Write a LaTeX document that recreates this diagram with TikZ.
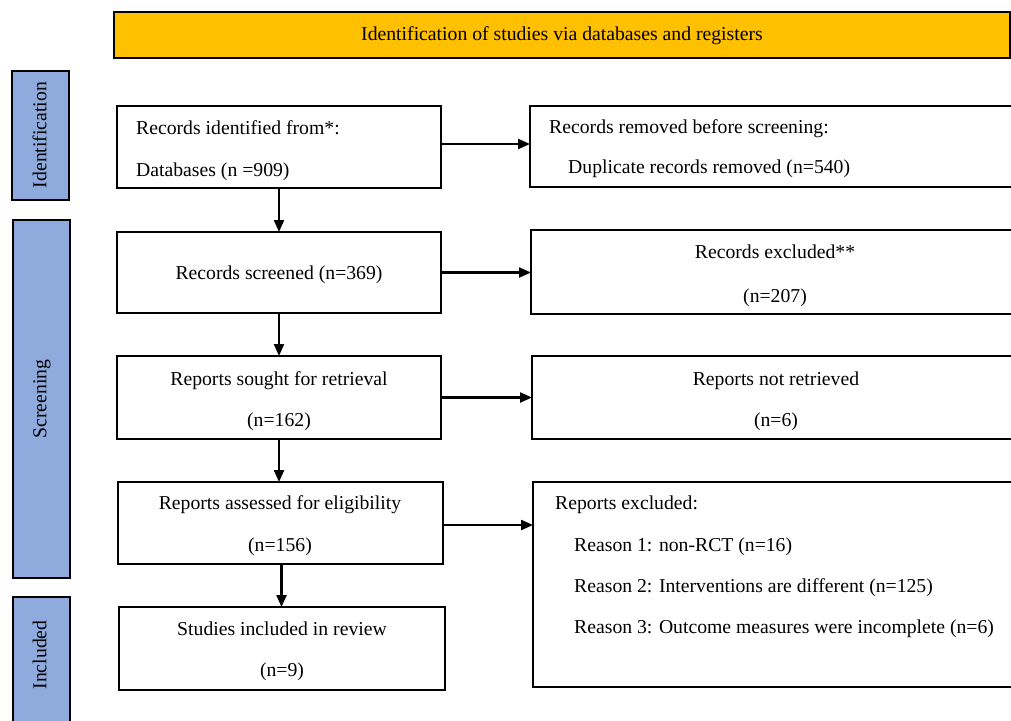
\documentclass[tikz,border=0pt]{standalone}
\usepackage{fontspec}
\setmainfont{Liberation Serif}
\usetikzlibrary{arrows.meta}
\definecolor{bannerY}{HTML}{FFC000}
\definecolor{barB}{HTML}{8FAADC}
\begin{document}
\begin{tikzpicture}[x=1pt,y=-1pt,
 box/.style={draw=black, line width=2.8pt, fill=white, anchor=north west, inner sep=0pt, outer sep=0pt},
 bar/.style={draw=black, line width=2.8pt, fill=barB, anchor=north west, inner sep=0pt, outer sep=0pt, minimum width=57pt},
 txt/.style={font=\fontsize{19.7}{23}\selectfont, inner sep=0pt},
 arr/.style={line width=2.2pt, -{Triangle[length=12pt,width=10pt]}}]
\useasboundingbox[fill=white] (0,0) rectangle (1011,720);
% banner
\node[draw=black, line width=2.2pt, fill=bannerY, anchor=north west, inner sep=0pt, outer sep=0pt,
      minimum width=896pt, minimum height=46pt] (ban) at (114,12) {};
\node[txt, anchor=mid] (bant) at (562,38) {Identification of studies via databases and registers};
% side bars
\node[bar, minimum height=129pt] (sid) at (12,71) {};
\node[bar, minimum height=358pt] (ssc) at (13,220) {};
\node[bar, minimum height=140pt] (sin) at (13,597) {};
\node[txt, rotate=90, anchor=mid] (tid) at (44,135) {Identification};
\node[txt, rotate=90, anchor=mid] (tsc) at (44,399) {Screening};
\node[txt, rotate=90, anchor=mid] (tin) at (44,655) {Included};
% left column
\node[box, minimum width=324pt, minimum height=82pt] (b1) at (117,106) {};
\node[box, minimum width=324pt, minimum height=81pt] (b2) at (117,232) {};
\node[box, minimum width=324pt, minimum height=83pt] (b3) at (117,356) {};
\node[box, minimum width=325pt, minimum height=82pt] (b4) at (118,482) {};
\node[box, minimum width=326pt, minimum height=83pt] (b5) at (119,607) {};
% right column
\node[box, minimum width=489pt, minimum height=81pt] (r1) at (530,106) {};
\node[box, minimum width=488pt, minimum height=84pt] (r2) at (531,230) {};
\node[box, minimum width=487pt, minimum height=83pt] (r3) at (532,356) {};
\node[box, minimum width=486pt, minimum height=205pt] (r4) at (533,482) {};
% texts left
\node[txt, anchor=mid west] (t1a) at (136,132) {Records identified from*:};
\node[txt, anchor=mid west] (t1b) at (136,174) {Databases (n =909)};
\node[txt, anchor=mid] (t2) at (279,277) {Records screened (n=369)};
\node[txt, anchor=mid] (t3a) at (279,383) {Reports sought for retrieval};
\node[txt, anchor=mid] (t3b) at (279,424) {(n=162)};
\node[txt, anchor=mid] (t4a) at (280,507) {Reports assessed for eligibility};
\node[txt, anchor=mid] (t4b) at (280,549) {(n=156)};
\node[txt, anchor=mid] (t5a) at (282,633) {Studies included in review};
\node[txt, anchor=mid] (t5b) at (282,674) {(n=9)};
% texts right
\node[txt, anchor=mid west] (u1a) at (549,131) {Records removed before screening:};
\node[txt, anchor=mid west] (u1b) at (568,171) {Duplicate records removed (n=540)};
\node[txt, anchor=mid] (u2a) at (775,256) {Records excluded**};
\node[txt, anchor=mid] (u2b) at (775,300) {(n=207)};
\node[txt, anchor=mid] (u3a) at (776,383) {Reports not retrieved};
\node[txt, anchor=mid] (u3b) at (776,424) {(n=6)};
\node[txt, anchor=mid west] (u4a) at (555,507) {Reports excluded:};
\node[txt, anchor=mid west] (u4b) at (574,549) {Reason 1: non-RCT (n=16)};
\node[txt, anchor=mid west] (u4c) at (574,590) {Reason 2: Interventions are different (n=125)};
\node[txt, anchor=mid west] (u4d) at (574,631) {Reason 3: Outcome measures were incomplete (n=6)};
% arrows
\draw[arr] (b1.south) -- (b1.south |- b2.north);
\draw[arr] (b2.south) -- (b2.south |- b3.north);
\draw[arr] (b3.south) -- (b3.south |- b4.north);
\draw[arr] ([xshift=1pt]b4.south) -- ([xshift=1pt]b4.south |- b5.north);
\draw[arr] ([yshift=3pt]b1.east) -- ([yshift=3pt]b1.east -| r1.west);
\draw[arr] (b2.east) -- (b2.east -| r2.west);
\draw[arr] (b3.east) -- (b3.east -| r3.west);
\draw[arr] ([yshift=-2pt]b4.east) -- ([yshift=-2pt]b4.east -| r4.west);
\end{tikzpicture}
\end{document}
